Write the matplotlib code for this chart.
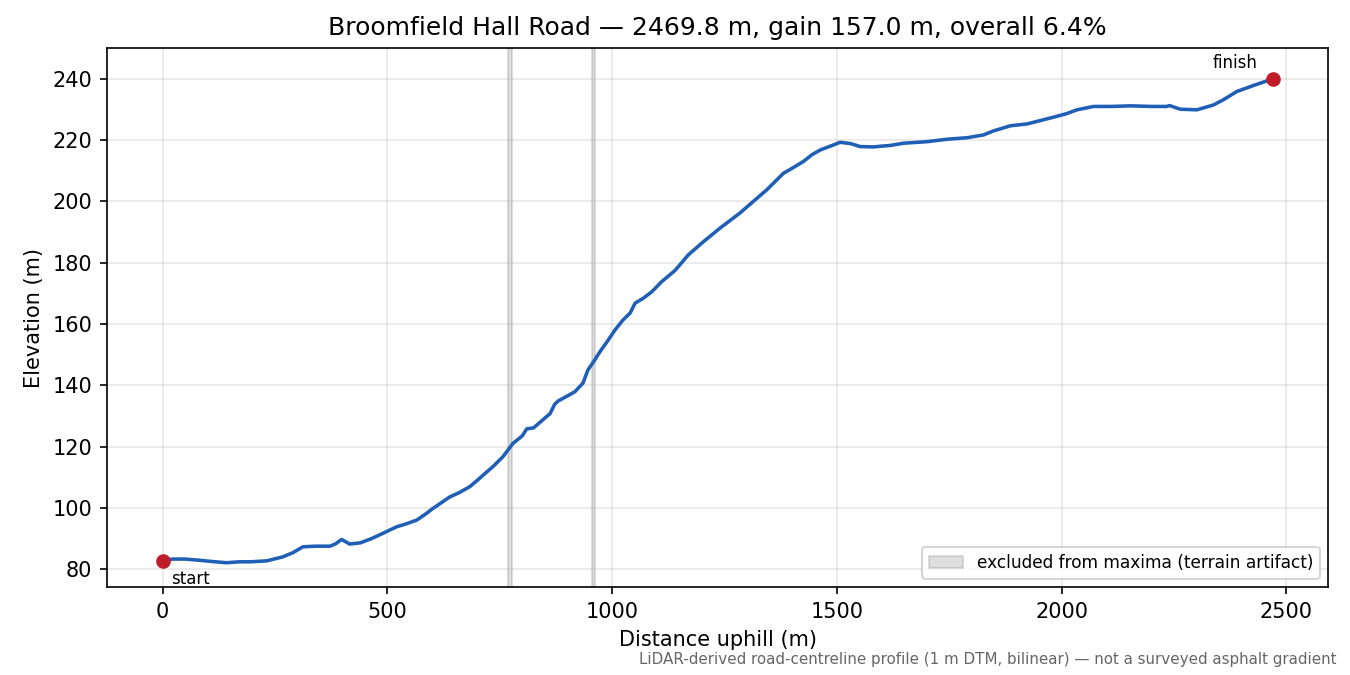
import numpy as np
import matplotlib
matplotlib.use("Agg")
import matplotlib.pyplot as plt

# --- Profile data ---
DIST_M = [0, 25, 50, 82, 110, 142, 170, 194, 231, 267, 290, 312, 340, 372,
          385, 398, 416, 440, 465, 490, 520, 540, 565, 585, 601, 620, 639,
          660, 683, 700, 713, 735, 757, 779, 800, 810, 825, 840, 862, 872,
          880, 900, 917, 935, 946, 960, 973, 990, 1006, 1024, 1040, 1051,
          1070, 1088, 1110, 1140, 1169, 1200, 1240, 1284, 1310, 1344, 1381,
          1400, 1425, 1445, 1463, 1490, 1507, 1530, 1552, 1581, 1620, 1648,
          1700, 1745, 1790, 1826, 1848, 1886, 1923, 1950, 1982, 2010, 2034,
          2071, 2110, 2153, 2200, 2234, 2240, 2264, 2301, 2338, 2360, 2390,
          2430, 2469.8]
ELEV_M = [83.0, 83.3, 83.3, 82.9, 82.5, 82.1, 82.4, 82.4, 82.7, 84.0, 85.4,
          87.3, 87.5, 87.5, 88.3, 89.7, 88.2, 88.6, 90.0, 91.7, 93.8, 94.7,
          96.0, 98.0, 99.8, 101.7, 103.6, 105.0, 106.9, 109.0, 110.7, 113.5,
          116.7, 121.0, 123.5, 125.8, 126.1, 128.0, 130.8, 133.8, 134.9,
          136.5, 137.9, 140.7, 145.0, 148.0, 151.0, 154.5, 158.0, 161.3,
          163.6, 166.8, 168.5, 170.5, 173.8, 177.5, 182.5, 186.5, 191.3,
          196.2, 199.5, 203.8, 209.2, 210.8, 213.0, 215.3, 216.8, 218.3,
          219.3, 218.9, 217.9, 217.8, 218.3, 219.0, 219.5, 220.3, 220.8,
          221.7, 223.0, 224.7, 225.3, 226.3, 227.5, 228.6, 229.9, 231.0,
          231.0, 231.2, 231.0, 231.0, 231.3, 230.1, 229.9, 231.5, 233.2,
          235.9, 238.0, 240.0]

# excluded stretches (terrain artifact)
EXCLUDED = [(769, 777), (955, 962)]

TITLE = "Broomfield Hall Road \u2014 2469.8 m, gain 157.0 m, overall 6.4%"
NOTE = ("LiDAR-derived road-centreline profile (1 m DTM, bilinear) "
        "\u2014 not a surveyed asphalt gradient")

LINE_COLOR = "#1f5fb5"
END_COLOR = "#c21b2a"


def main():
    fig = plt.figure(figsize=(9, 4.5), dpi=150)
    ax = fig.add_axes([0.079, 0.130, 0.905, 0.799])

    for i, (a, b) in enumerate(EXCLUDED):
        ax.axvspan(a, b, color="grey", alpha=0.25,
                   label="excluded from maxima (terrain artifact)" if i == 0 else None)

    ax.plot(DIST_M, ELEV_M, color=LINE_COLOR, lw=1.7)

    ax.plot([DIST_M[0]], [82.8], "o", color=END_COLOR, ms=6, zorder=5)
    ax.plot([DIST_M[-1]], [ELEV_M[-1]], "o", color=END_COLOR, ms=6, zorder=5)
    ax.annotate("start", (DIST_M[0], 82.8), xytext=(4, -4.5),
                textcoords="offset points", fontsize=8, va="top", ha="left")
    ax.annotate("finish", (DIST_M[-1], ELEV_M[-1]), xytext=(-7.5, 3.5),
                textcoords="offset points", fontsize=8, va="bottom", ha="right")

    ax.set_xlim(-124.7, 2593.5)
    ax.set_ylim(74.1, 250.1)
    ax.set_xlabel("Distance uphill (m)")
    ax.set_ylabel("Elevation (m)")
    ax.set_title(TITLE)
    ax.grid(True, alpha=0.3)
    ax.legend(loc="lower right", fontsize=8.2)

    fig.text(0.99, 0.012, NOTE, ha="right", va="bottom", fontsize=7.25, color="0.4")

    fig.savefig("out.png", dpi=150)


if __name__ == "__main__":
    main()
